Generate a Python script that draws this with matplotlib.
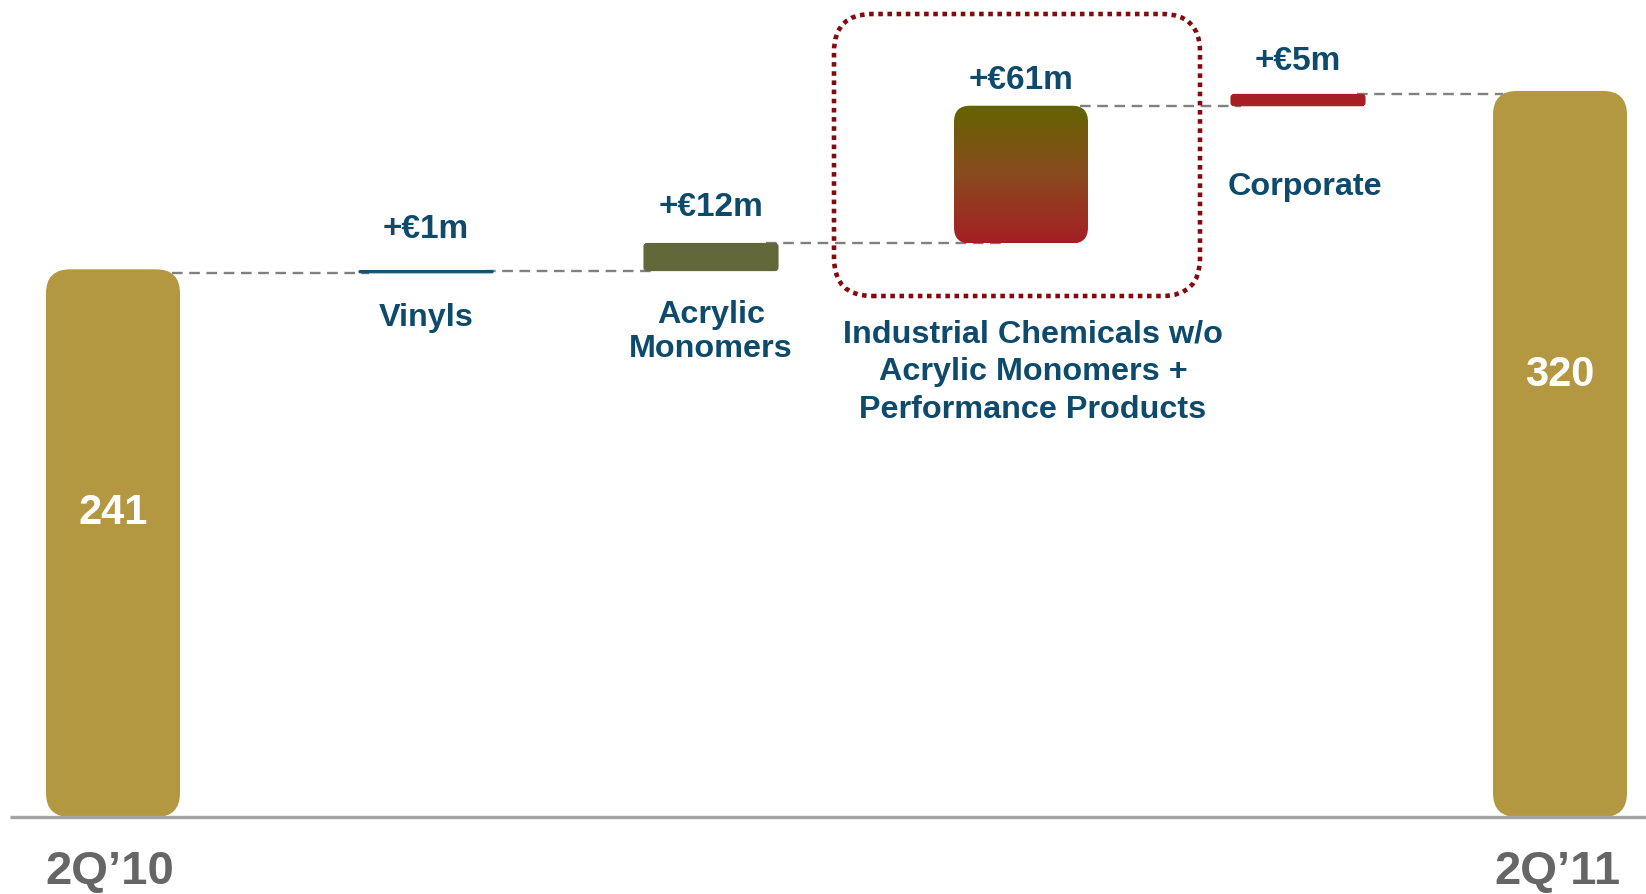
import numpy as np
import matplotlib
matplotlib.use('Agg')
import matplotlib.pyplot as plt
from matplotlib.patches import FancyBboxPatch
from matplotlib.colors import LinearSegmentedColormap

plt.rcParams['font.family'] = ['Liberation Sans', 'DejaVu Sans']
plt.rcParams['font.weight'] = 'bold'

# --------------------------------
#  data
# --------------------------------
start_label = '2Q’10'
end_label = '2Q’11'
start_value = 241
end_value = 320
segments = ['Vinyls', 'Acrylic\nMonomers',
            'Industrial Chemicals w/o\nAcrylic Monomers +\nPerformance Products',
            'Corporate']
deltas = [1, 12, 61, 5]
delta_labels = ['+€1m', '+€12m', '+€61m', '+€5m']

# --------------------------------
#  layout (pixels of the 1646x895 canvas)
# --------------------------------
W, H = 1646, 895
BASE = 818          # y pixel of the zero line
PX = 2.258          # pixels per unit
TOP_PAD = 3.5       # total bars stick out a little above their level
x_centers = [113, 426, 711, 1021, 1298, 1560]
bar_w = 134
delta_label_py = [230, 208, 80, 61]
cat_label_py = [318, 332, 372, 187]
cat_label_dx = [0, 0, 12, 7]
cat_spacing = [1.17, 1.17, 1.33, 1.17]
total_label_py = [513, 375]
bottom_label_py = 872

GOLD = '#b39841'
TEXT = '#0d4a6b'
bar_colors = ['#15506f', '#626839', None, '#a51f25']


def v(py):
    # pixel row -> value
    return (BASE - py) / PX


fig = plt.figure(figsize=(W / 100, H / 100), dpi=100)
ax = fig.add_axes([0, 0, 1, 1])
ax.axis('off')


def rbar(x0, y0, w, h, r, **kw):
    # rounded rectangle, r in pixels
    p = FancyBboxPatch((x0, y0), w, h,
                       boxstyle='round,pad=0,rounding_size=%g' % r,
                       mutation_aspect=1 / PX, **kw)
    ax.add_patch(p)
    return p


# totals
for xc, val in [(x_centers[0], start_value), (x_centers[-1], end_value)]:
    rbar(xc - bar_w / 2, 0, bar_w, val + TOP_PAD / PX, 24, fc=GOLD,
         ec='none', zorder=3)

# running levels
levels = np.concatenate([[start_value], start_value + np.cumsum(deltas)])

# dashed connectors
for i in range(len(levels)):
    x_a = x_centers[i] + bar_w / 2 - 8
    x_b = x_centers[i + 1] - bar_w / 2 + 10
    if i == 2:
        x_a = x_centers[i] + bar_w / 2 - 12
        x_b = x_centers[i + 1] - bar_w / 2 + 48
    ax.plot([x_a, x_b], [levels[i], levels[i]], color='#808080', lw=1.7,
            dashes=(4.5, 2.8), zorder=2)

# delta bars
cmap = LinearSegmentedColormap.from_list('grad', ['#a51f25', '#8a4a1e', '#636400'])
for i, d in enumerate(deltas):
    xc = x_centers[i + 1]
    x0 = xc - bar_w / 2
    y0 = levels[i]
    if bar_colors[i] is None:
        p = rbar(x0, y0, bar_w, d, 16, fc='none', ec='none', zorder=3)
        im = ax.imshow(np.linspace(0, 1, 256).reshape(-1, 1),
                       extent=[x0, x0 + bar_w, y0, y0 + d],
                       origin='lower', cmap=cmap, aspect='auto', zorder=3)
        im.set_clip_path(p)
    else:
        rbar(x0, y0, bar_w, d, min(3, d * PX / 2), fc=bar_colors[i],
             ec=bar_colors[i], lw=0.8, zorder=3)
    ax.text(xc, v(delta_label_py[i]), delta_labels[i], ha='center',
            va='center', fontsize=24, color=TEXT, fontweight='bold')
    ax.text(xc + cat_label_dx[i], v(cat_label_py[i]), segments[i],
            ha='center', va='center', fontsize=23.3, color=TEXT,
            fontweight='bold', linespacing=cat_spacing[i])

# highlight box
box_y0 = v(297)
box_y1 = v(15)
rbar(834, box_y0, 366, box_y1 - box_y0, 38, fc='none', ec='#850a0f',
     lw=3.3, linestyle=(0, (1, 1)), zorder=4)

# total labels
for xc, val, py in zip([x_centers[0], x_centers[-1]], [start_value, end_value],
                       total_label_py):
    ax.text(xc, v(py), str(val), ha='center', va='center', fontsize=30,
            color='white', fontweight='bold', zorder=5)

# base line
ax.plot([10, W], [0, 0], color='#a3a3a3', lw=2.4, zorder=4,
        solid_capstyle='butt')

for xc, lab in [(x_centers[0] - 3, start_label), (x_centers[-1] - 2, end_label)]:
    ax.text(xc, v(bottom_label_py), lab, ha='center', va='center',
            fontsize=34, color='#666666', fontweight='bold')

ax.set_xlim(0, W)
ax.set_ylim(v(H), v(0))

plt.savefig('out.png', dpi=100)
